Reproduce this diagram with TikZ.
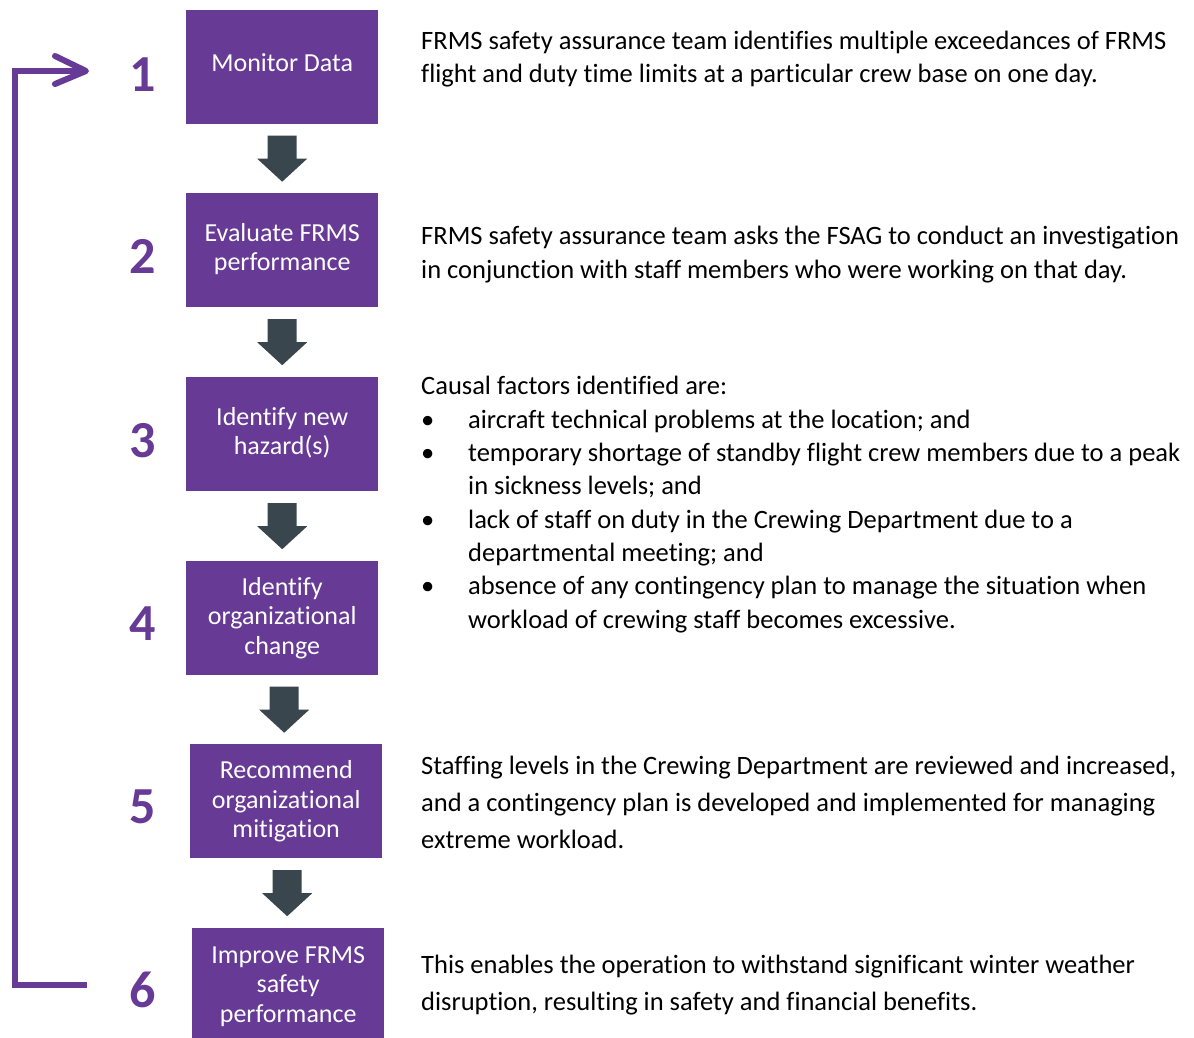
\documentclass[tikz,border=0pt]{standalone}
\usepackage{fontspec}
\setmainfont{Carlito}[Ligatures=NoCommon]
\usetikzlibrary{calc}
\definecolor{frmspurple}{HTML}{673A96}
\definecolor{arrowgrey}{HTML}{3A464D}
\begin{document}
\begin{tikzpicture}[x=1pt,y=-1pt,
  stepbox/.style={fill=frmspurple, draw=none, minimum width=192pt, minimum height=114pt,
    inner sep=0pt, text=white, align=center, anchor=north west,
    font=\fontsize{26}{29.5}\selectfont},
  num/.style={text=frmspurple, anchor=base, inner sep=0pt,
    font=\fontsize{52}{52}\selectfont\bfseries},
  desc/.style={anchor=base west, align=left, inner sep=0pt, text=black,
    font=\fontsize{26.5}{33.3}\selectfont},
  loopline/.style={draw=frmspurple, line width=6pt},
  downarrow/.pic={\fill[arrowgrey] (-14.5,-23) -- (14.5,-23) -- (14.5,0) -- (25,0)
    -- (0,23) -- (-25,0) -- (-14.5,0) -- cycle;}]
\useasboundingbox (0,0) rectangle (1194,1038);
\fill[white] (0,0) rectangle (1194,1038);

% step boxes
\node[stepbox] (b1) at (186,10) {\raisebox{10pt}{Monitor Data}};
\node[stepbox] (b2) at (186,193) {\raisebox{3pt}{\begin{tabular}{@{}c@{}}Evaluate FRMS\\performance\end{tabular}}};
\node[stepbox] (b3) at (186,377) {\raisebox{4pt}{\begin{tabular}{@{}c@{}}Identify new\\hazard(s)\end{tabular}}};
\node[stepbox] (b4) at (186,561) {Identify\\organizational\\change};
\node[stepbox] (b5) at (190,744) {Recommend\\organizational\\mitigation};
\node[stepbox, minimum height=116pt] (b6) at (192,928) {Improve FRMS\\safety\\performance};

% block arrows
\pic at ($(b1.south)!0.5!(b2.north)$) {downarrow};
\pic at ($(b2.south)!0.5!(b3.north)$) {downarrow};
\pic at ($(b3.south)!0.5!(b4.north)$) {downarrow};
\pic at ($(b4.south)!0.5!(b5.north)$) {downarrow};
\pic at ($(b5.south)!0.5!(b6.north)$) {downarrow};

% numbers
\node[num] (n1) at (143,92) {1};
\node[num] (n2) at (143,273) {2};
\node[num] (n3) at (143,457) {3};
\node[num] (n4) at (143,640) {4};
\node[num] (n5) at (143,823) {5};
\node[num] (n6) at (143,1007) {6};

% feedback loop
\coordinate (fbtop) at (86,71);
\coordinate (fbbot) at (87,985);
\draw[loopline, line join=miter] (fbbot) -- (15,985) -- (15,71) -- ($(fbtop)+(-5,0)$);
\draw[loopline, line cap=round, line join=round] ($(fbtop)+(-31,-15)$) -- (fbtop) -- ($(fbtop)+(-31,13)$);

% descriptions (anchor = baseline of the last line)
\node[desc] (t1) at (421,83) {FRMS safety assurance team identifies multiple exceedances of FRMS\\flight and duty time limits at a particular crew base on one day.};
\node[desc] (t2) at (421,278) {FRMS safety assurance team asks the FSAG to conduct an investigation\\in conjunction with staff members who were working on that day.};
\node[desc] (t3) at (421,628) {Causal factors identified are:\\
\makebox[47pt][l]{\textbullet}aircraft technical problems at the location; and\\
\makebox[47pt][l]{\textbullet}temporary shortage of standby flight crew members due to a peak\\
\hspace*{47pt}in sickness levels; and\\
\makebox[47pt][l]{\textbullet}lack of staff on duty in the Crewing Department due to a\\
\hspace*{47pt}departmental meeting; and\\
\makebox[47pt][l]{\textbullet}absence of any contingency plan to manage the situation when\\
\hspace*{47pt}workload of crewing staff becomes excessive.};
\node[desc, font=\fontsize{26.5}{37}\selectfont] (t5) at (421,848) {Staffing levels in the Crewing Department are reviewed and increased,\\and a contingency plan is developed and implemented for managing\\extreme workload.};
\node[desc, font=\fontsize{26.5}{37}\selectfont] (t6) at (421,1010) {This enables the operation to withstand significant winter weather\\disruption, resulting in safety and financial benefits.};
\end{tikzpicture}
\end{document}
